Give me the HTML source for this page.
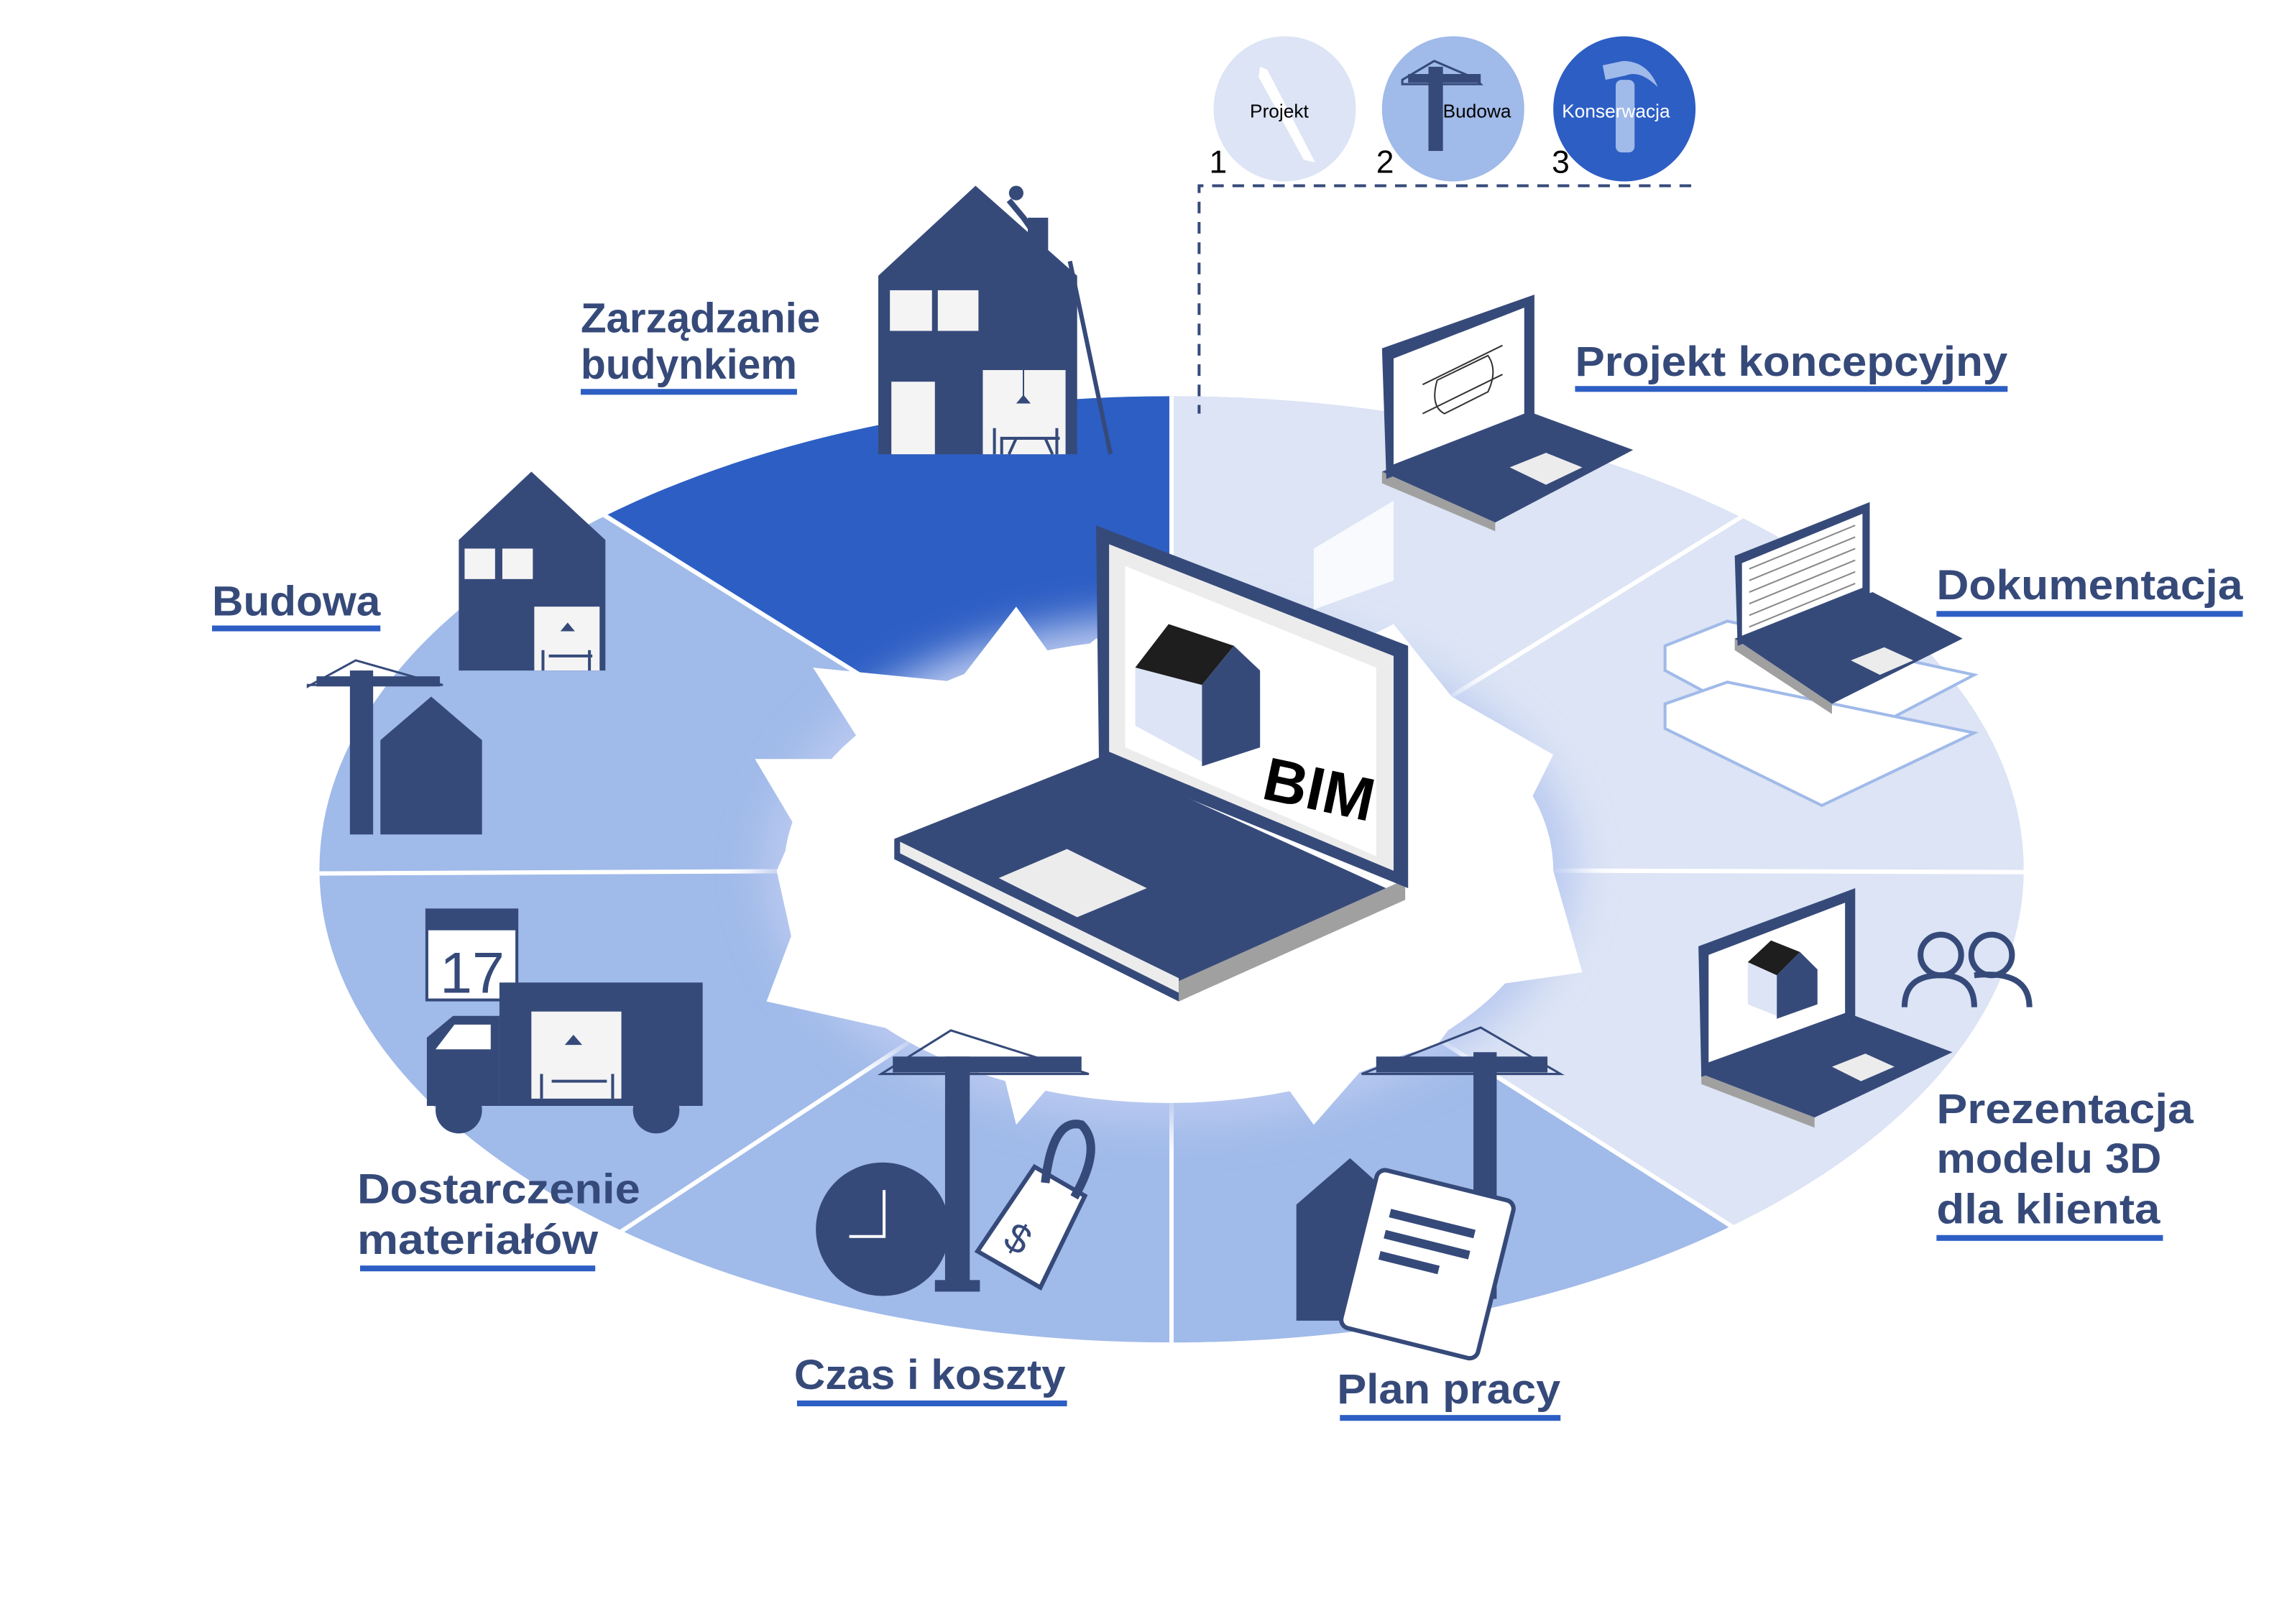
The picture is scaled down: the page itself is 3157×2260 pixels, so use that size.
<!DOCTYPE html>
<html><head><meta charset="utf-8"><style>
html,body{margin:0;padding:0;background:#fff;}
svg{display:block;}
text{font-family:"Liberation Sans",sans-serif;}
.lb{font-weight:bold;fill:#364a7a;font-size:29px;}
</style></head><body>
<svg width="3157" height="2260" viewBox="0 0 1563 1119" xmlns="http://www.w3.org/2000/svg">
<defs>
<filter id="bl" x="-50%" y="-50%" width="200%" height="200%"><feGaussianBlur stdDeviation="14"/></filter>
<filter id="sh" x="-20%" y="-20%" width="140%" height="140%"><feGaussianBlur stdDeviation="4"/></filter>
<clipPath id="ec"><ellipse cx="807" cy="599" rx="587" ry="326"/></clipPath>
</defs>
<rect width="1563" height="1119" fill="#fff"/>
<g clip-path="url(#ec)">
<rect x="200" y="250" width="1220" height="700" fill="#a0bae9"/>
<polygon points="807,599 807,200 1300,200 1450,300 1450,601 1200,900 807,900" fill="#dce4f5"/>
<polygon points="807,599 1450,601 1300,900 1190,845" fill="#dce4f5"/>
<polygon points="807,599 1190,845 1250,1000 807,1000" fill="#a0bae9"/>
<polygon points="807,599 340,305 500,200 807,200" fill="#2d5ec4"/>
<g stroke="#fff" stroke-width="3">
<line x1="807" y1="599" x2="807" y2="200"/><line x1="807" y1="599" x2="1250" y2="325"/>
<line x1="807" y1="599" x2="1420" y2="601"/><line x1="807" y1="599" x2="1240" y2="875"/>
<line x1="807" y1="599" x2="807" y2="1000"/><line x1="807" y1="599" x2="380" y2="880"/>
<line x1="807" y1="599" x2="190" y2="602"/><line x1="807" y1="599" x2="360" y2="320"/>
</g>
</g>
<!-- central glow -->
<ellipse cx="805" cy="600" rx="280" ry="175" fill="#b9c9f0" filter="url(#bl)"/>
<ellipse cx="805" cy="600" rx="265" ry="160" fill="#fff"/>
<polygon points="520,523 600,523 560,460 660,470 700,418 730,460 755,440 900,460 960,430 1000,480 1070,520 1050,560 1070,600 1090,670 1020,680 990,720 940,735 905,775 880,740 780,745 730,740 700,775 690,735 640,715 528,690 545,645 535,600 548,570" fill="#fff"/>
<!-- central laptop -->
<polygon points="616,578 757,522 968,618 812,690" fill="#364a7a"/>
<polygon points="616,578 812,676 812,690 616,592" fill="#364a7a"/>
<polygon points="620,580 812,674 812,684 620,588" fill="#ececec"/>
<polygon points="812,676 968,606 968,620 812,690" fill="#a0a0a0"/>
<polygon points="688,605 735,585 790,612 742,632" fill="#ececec"/>
<polygon points="755,362 970,445 970,612 757,525" fill="#364a7a"/>
<polygon points="764,375 960,452 960,600 764,518" fill="#ececec"/>
<polygon points="775,390 948,460 948,590 775,515" fill="#fff"/>
<polygon points="782,460 805,430 850,445 828,472" fill="#1e1e1e"/>
<polygon points="782,460 828,472 828,525 782,500" fill="#dce4f5"/>
<polygon points="828,472 850,445 868,462 868,515 828,528" fill="#364a7a"/>
<text x="868" y="550" font-size="42" font-weight="bold" transform="rotate(12 868 550)" fill="#000">BIM</text>
<!-- top circles -->
<ellipse cx="885" cy="75" rx="49" ry="50" fill="#dce4f5"/>
<polygon points="868,46 873,48 906,112 898,110 867,53" fill="#fff"/>
<ellipse cx="1001" cy="75" rx="49" ry="50" fill="#a0bae9"/>
<rect x="984" y="46" width="10" height="58" fill="#364a7a"/>
<polygon points="966,55 988,42 1016,54 1020,58 966,58" fill="none" stroke="#364a7a" stroke-width="1.5"/>
<rect x="970" y="51" width="50" height="6" fill="#364a7a"/>
<ellipse cx="1119" cy="75" rx="49" ry="50" fill="#2d5ec4"/>
<rect x="1113" y="55" width="13" height="50" rx="4" fill="#a0bae9"/>
<path d="M1104,45 L1118,42 Q1135,42 1142,60 Q1130,48 1120,52 L1106,55 Z" fill="#a0bae9"/>
<text x="861" y="81" font-size="13" fill="#000">Projekt</text>
<text x="994" y="81" font-size="13" fill="#000">Budowa</text>
<text x="1076" y="81" font-size="13" fill="#fff">Konserwacja</text>
<text x="833" y="119" font-size="22" fill="#000">1</text>
<text x="948" y="119" font-size="22" fill="#000">2</text>
<text x="1069" y="119" font-size="22" fill="#000">3</text>
<path d="M1165,128 H826 V285" fill="none" stroke="#364a7a" stroke-width="2" stroke-dasharray="8,6"/>
<!-- Zarządzanie house -->
<polygon points="605,190 672,128 742,190 742,313 605,313" fill="#364a7a"/>
<rect x="708" y="150" width="14" height="30" fill="#364a7a"/>
<rect x="613" y="200" width="29" height="28" fill="#f4f4f4"/><rect x="646" y="200" width="28" height="28" fill="#f4f4f4"/>
<rect x="614" y="263" width="30" height="50" fill="#f4f4f4"/>
<rect x="677" y="255" width="57" height="58" fill="#f4f4f4"/>
<line x1="705" y1="255" x2="705" y2="275" stroke="#364a7a"/><polygon points="700,278 710,278 705,272" fill="#364a7a"/>
<path d="M685,313 V295 M690,313 V302 H730 M700,302 L695,313 M720,302 L725,313 M728,313 V295" stroke="#364a7a" stroke-width="2" fill="none"/>
<line x1="737" y1="180" x2="765" y2="313" stroke="#364a7a" stroke-width="3"/>
<circle cx="700" cy="133" r="5" fill="#364a7a"/><path d="M695,138 L705,150 L712,160" stroke="#364a7a" stroke-width="4"/>
<!-- Budowa -->
<polygon points="316,372 366,325 417,372 417,462 316,462" fill="#364a7a"/>
<rect x="320" y="378" width="21" height="21" fill="#f4f4f4"/><rect x="346" y="378" width="21" height="21" fill="#f4f4f4"/>
<rect x="368" y="418" width="45" height="44" fill="#f4f4f4"/>
<polygon points="386,435 396,435 391,429" fill="#364a7a"/>
<path d="M374,462 V448 M378,452 H408 M406,462 V448" stroke="#364a7a" stroke-width="2" fill="none"/>
<rect x="241" y="462" width="16" height="113" fill="#364a7a"/>
<polygon points="212,473 245,455 305,472 212,472" fill="none" stroke="#364a7a" stroke-width="1.5"/>
<rect x="218" y="466" width="85" height="7" fill="#364a7a"/>
<polygon points="262,510 297,480 332,510 332,575 262,575" fill="#364a7a"/>
<!-- Dostarczenie -->
<rect x="294" y="627" width="62" height="62" fill="#fff" stroke="#364a7a" stroke-width="2"/>
<rect x="294" y="627" width="62" height="14" fill="#364a7a"/>
<text x="303" y="684" font-size="40" fill="#364a7a">17</text>
<rect x="344" y="677" width="140" height="85" fill="#364a7a"/>
<path d="M294,715 L312,700 H344 V762 H294 Z" fill="#364a7a"/>
<polygon points="300,723 313,706 338,706 338,723" fill="#fff"/>
<rect x="366" y="697" width="62" height="60" fill="#f4f4f4"/>
<polygon points="389,720 401,720 395,713" fill="#364a7a"/>
<path d="M373,757 V740 M380,745 H418 M422,757 V740" stroke="#364a7a" stroke-width="2" fill="none"/>
<circle cx="316" cy="765" r="16" fill="#364a7a"/><circle cx="452" cy="765" r="16" fill="#364a7a"/>
<!-- Czas -->
<circle cx="608" cy="847" r="46" fill="#364a7a"/>
<path d="M609,820 V852 H585" stroke="#fff" stroke-width="2" fill="none"/>
<rect x="651" y="728" width="17" height="160" fill="#364a7a"/><rect x="644" y="882" width="31" height="8" fill="#364a7a"/>
<polygon points="607,740 655,710 750,740" fill="none" stroke="#364a7a" stroke-width="1.5"/>
<rect x="615" y="728" width="130" height="11" fill="#364a7a"/>
<g transform="rotate(30 715 840)"><polygon points="695,810 735,810 740,880 690,880" fill="#fff" stroke="#364a7a" stroke-width="3"/><text x="702" y="868" font-size="28" fill="#364a7a">$</text></g>
<path d="M720,815 Q725,770 745,775 Q760,790 740,825" stroke="#364a7a" stroke-width="6" fill="none"/>
<!-- Plan pracy -->
<rect x="1015" y="725" width="16" height="170" fill="#364a7a"/>
<polygon points="938,740 1020,708 1075,740" fill="none" stroke="#364a7a" stroke-width="1.5"/>
<rect x="948" y="728" width="118" height="11" fill="#364a7a"/>
<polygon points="893,830 930,798 960,825 960,910 893,910" fill="#364a7a"/>
<g transform="rotate(14 983 870)"><rect x="935" y="815" width="97" height="112" rx="6" fill="#fff" stroke="#364a7a" stroke-width="3"/>
<rect x="950" y="840" width="60" height="6" fill="#364a7a"/><rect x="950" y="855" width="60" height="6" fill="#364a7a"/><rect x="950" y="870" width="42" height="6" fill="#364a7a"/></g>
<!-- Projekt koncepcyjny laptop -->
<polygon points="952,325 1057,285 1125,310 1030,360" fill="#364a7a"/>
<polygon points="952,325 1030,360 1030,366 952,333" fill="#a0a0a0"/>
<polygon points="1040,322 1065,312 1090,322 1065,334" fill="#ececec"/>
<polygon points="952,240 1057,203 1057,290 955,330" fill="#364a7a"/>
<polygon points="960,247 1050,212 1050,285 960,320" fill="#fff"/>
<path d="M980,265 L1035,238 M980,285 L1035,258 M990,262 Q985,280 995,285 L1025,270 Q1032,255 1025,245 Z" stroke="#333" stroke-width="1" fill="none"/>
<polygon points="905,378 960,345 960,400 905,420" fill="#fff" opacity="0.8"/>
<!-- Dokumentacja -->
<polygon points="1147,445 1190,428 1360,465 1255,520 1147,462" fill="#fff" stroke="#a0bae9" stroke-width="2"/>
<polygon points="1147,485 1190,470 1360,505 1255,555 1147,502" fill="#fff" stroke="#a0bae9" stroke-width="2"/>
<polygon points="1195,440 1290,408 1352,440 1262,485" fill="#364a7a"/>
<polygon points="1195,440 1262,485 1262,492 1195,448" fill="#a0a0a0"/>
<polygon points="1195,383 1288,346 1288,410 1197,445" fill="#364a7a"/>
<polygon points="1200,388 1283,354 1283,405 1200,438" fill="#fff"/>
<g stroke="#888" stroke-width="1"><line x1="1205" y1="392" x2="1278" y2="362"/><line x1="1205" y1="400" x2="1278" y2="370"/><line x1="1205" y1="408" x2="1278" y2="378"/><line x1="1205" y1="416" x2="1278" y2="386"/><line x1="1205" y1="424" x2="1278" y2="394"/><line x1="1205" y1="432" x2="1278" y2="402"/></g>
<polygon points="1275,455 1298,446 1318,455 1295,465" fill="#ececec"/>
<!-- Prezentacja -->
<polygon points="1172,740 1278,700 1345,725 1250,770" fill="#364a7a"/>
<polygon points="1172,740 1250,770 1250,777 1172,747" fill="#a0a0a0"/>
<polygon points="1262,735 1285,726 1305,735 1282,745" fill="#ececec"/>
<polygon points="1170,652 1278,612 1278,705 1172,742" fill="#364a7a"/>
<polygon points="1177,658 1271,622 1271,698 1177,732" fill="#fff"/>
<polygon points="1204,663 1220,648 1240,656 1224,672" fill="#1e1e1e"/>
<polygon points="1204,663 1224,672 1224,700 1204,692" fill="#dce4f5"/>
<polygon points="1224,672 1240,656 1252,668 1252,692 1224,702" fill="#364a7a"/>
<g fill="none" stroke="#364a7a" stroke-width="4"><circle cx="1337" cy="658" r="14"/><path d="M1312,694 Q1312,672 1337,672 Q1360,672 1360,694"/><circle cx="1372" cy="658" r="14"/><path d="M1360,672 Q1398,668 1398,694"/></g>
<!-- labels -->
<g class="lb">
<text x="400" y="229" textLength="165" lengthAdjust="spacingAndGlyphs">Zarządzanie</text>
<text x="400" y="261" textLength="149" lengthAdjust="spacingAndGlyphs">budynkiem</text>
<text x="146" y="424" textLength="116" lengthAdjust="spacingAndGlyphs">Budowa</text>
<text x="1085" y="259" textLength="298" lengthAdjust="spacingAndGlyphs">Projekt koncepcyjny</text>
<text x="1334" y="413" textLength="211" lengthAdjust="spacingAndGlyphs">Dokumentacja</text>
<text x="1334" y="774" textLength="177" lengthAdjust="spacingAndGlyphs">Prezentacja</text>
<text x="1334" y="808" textLength="155" lengthAdjust="spacingAndGlyphs">modelu 3D</text>
<text x="1334" y="843" textLength="154" lengthAdjust="spacingAndGlyphs">dla klienta</text>
<text x="921" y="967" textLength="154" lengthAdjust="spacingAndGlyphs">Plan pracy</text>
<text x="547" y="957" textLength="187" lengthAdjust="spacingAndGlyphs">Czas i koszty</text>
<text x="246" y="829" textLength="195" lengthAdjust="spacingAndGlyphs">Dostarczenie</text>
<text x="246" y="864" textLength="166" lengthAdjust="spacingAndGlyphs">materiałów</text>
</g>
<g fill="#2d5ec4">
<rect x="400" y="268" width="149" height="4"/><rect x="146" y="431" width="116" height="4"/>
<rect x="1085" y="266" width="298" height="4"/><rect x="1334" y="421" width="211" height="4"/>
<rect x="1334" y="851" width="156" height="4"/><rect x="923" y="975" width="152" height="4"/>
<rect x="549" y="965" width="186" height="4"/><rect x="248" y="872" width="162" height="4"/>
</g>
</svg>
</body></html>
